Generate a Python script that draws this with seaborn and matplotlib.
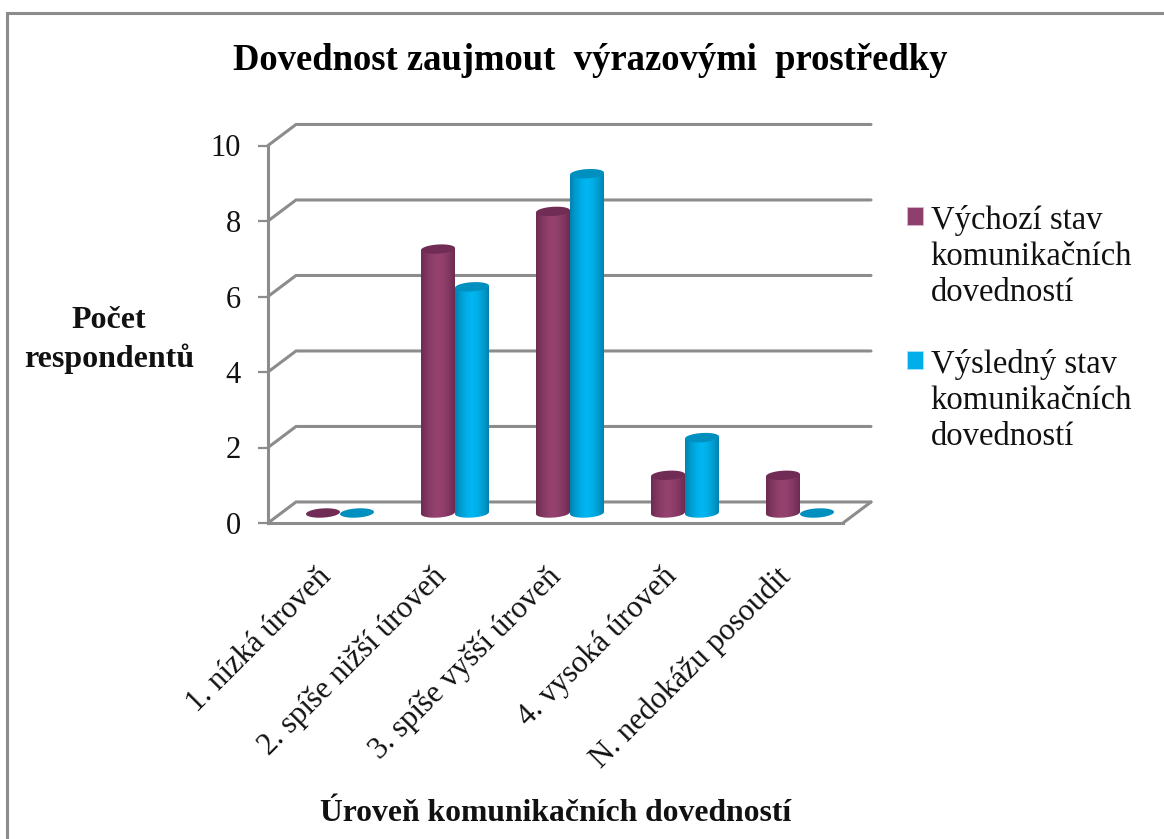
import numpy as np
import pandas as pd
import seaborn as sns
import matplotlib
matplotlib.use("Agg")
import matplotlib.pyplot as plt
from matplotlib.path import Path
from matplotlib.patches import PathPatch, Polygon, Rectangle

categories = ["1. nízká úroveň", "2. spíše nižší úroveň", "3. spíše vyšší úroveň",
              "4. vysoká úroveň", "N. nedokážu posoudit"]
series_names = ["Výchozí stav\nkomunikačních\ndovedností",
                "Výsledný stav\nkomunikačních\ndovedností"]
start_values = [0, 7, 8, 1, 1]
final_values = [0, 6, 9, 2, 0]
y_ticks = [0, 2, 4, 6, 8, 10]
title_text = "Dovednost zaujmout  výrazovými  prostředky"
y_title = "Počet\nrespondentů"
x_title = "Úroveň komunikačních dovedností"

W, H = 1164, 839
SERIF = "Liberation Serif"
GREY = "#8c8c8c"
body_colors = [("#6c2b52", "#96426f"), ("#0083b0", "#00b6f2")]
flat_colors = ["#8f3f6b", "#00aee8"]
top_colors = ["#702c55", "#0090bf"]

sns.set_theme(style="white")
plt.rcParams["font.family"] = [SERIF, "DejaVu Serif"]

df = pd.DataFrame({
    "cat": categories * 2,
    "series": [series_names[0]] * 5 + [series_names[1]] * 5,
    "value": start_values + final_values,
})

fig = plt.figure(figsize=(W / 100, H / 100), dpi=100, facecolor="white")


def px_axes(left, right, bottom, top):
    return fig.add_axes([left / W, 1 - bottom / H, (right - left) / W, (bottom - top) / H])


# outer frame: only the top and left edges fall inside the picture
fig.add_artist(Rectangle((7 / W, -0.05), 1.05, 1.05 - 12.8 / H,
                         transform=fig.transFigure, fill=False, edgecolor=GREY, linewidth=2.2))

# front plane: axis lines, ticks, labels
front = px_axes(268, 843, 523, 145.5)
front.set_xlim(-0.5, 4.5)
front.set_ylim(0, 10)
front.patch.set_alpha(0)
for s in ("top", "right"):
    front.spines[s].set_visible(False)
for s in ("left", "bottom"):
    front.spines[s].set_color(GREY)
    front.spines[s].set_linewidth(2.2)
front.set_yticks(y_ticks)
front.set_yticklabels([str(t) for t in y_ticks], fontsize=22, color="#111111")
front.set_xticks(np.arange(5) - 9 / 115)
front.set_xticklabels(categories, fontsize=22.2, rotation=45, ha="right",
                      rotation_mode="anchor", color="#111111")
front.tick_params(axis="y", length=7.5, width=1.6, color=GREY, pad=12, left=True)
front.tick_params(axis="x", length=0, pad=28, bottom=False)

# depth of the back wall, in data units
dx = 28 / (575 / 5)
dy = 21 / 37.7
for t in y_ticks:
    xs = [-0.5, -0.5 + dx, 4.5 + dx]
    ys = [t, t + dy, t + dy]
    front.plot(xs, ys, color=GREY, lw=2.2, clip_on=False, solid_joinstyle="miter", zorder=1)
front.plot([4.5, 4.5 + dx], [0, dy], color=GREY, lw=2.2, clip_on=False, zorder=1)

front.set_ylabel(y_title, rotation=0, fontsize=23, fontweight="bold", linespacing=1.4, color="#111111")
front.yaxis.set_label_coords((109 - 268) / 575, (523 - 340) / 377.5, transform=front.transAxes)
front.yaxis.label.set_va("center")
front.yaxis.label.set_ha("center")
front.set_xlabel(x_title, fontsize=22.8, fontweight="bold", color="#111111")
front.xaxis.set_label_coords((556 - 268) / 575, (523 - 814) / 377.5)
front.xaxis.label.set_va("center")

# bars
ax = px_axes(282.5, 857.5, 513, 136)
sns.barplot(data=df, x="cat", y="value", hue="series", palette=flat_colors, width=68 / 115,
            gap=0, saturation=1, ax=ax, legend=True, dodge=True, errorbar=None)
ax.set_xlim(-0.5, 4.5)
ax.set_ylim(0, 10)
ax.axis("off")
ax.patch.set_alpha(0)

eh = 4.6 / 37.7
skew = 0.06 * (115 / 37.7)
t_ = np.linspace(0, 2 * np.pi, 60)
for s, container in enumerate(ax.containers):
    grad = np.abs(np.linspace(-1, 1, 64)) ** 1.6
    dark = np.array(matplotlib.colors.to_rgb(body_colors[s][0]))
    light = np.array(matplotlib.colors.to_rgb(body_colors[s][1]))
    img = (dark[None, :] * grad[:, None] + light[None, :] * (1 - grad[:, None]))[None, :, :]
    for bar in container:
        x0, w, v = bar.get_x(), bar.get_width(), bar.get_height()
        xc = x0 + w / 2
        ex = xc + w / 2 * np.cos(t_)
        ey = eh * np.sin(t_) + skew * (ex - xc)
        if v > 0:
            tt = np.linspace(np.pi, 2 * np.pi, 30)
            bx = xc + w / 2 * np.cos(tt)
            by = eh * np.sin(tt) + skew * (bx - xc)
            verts = np.vstack([np.c_[bx, by], [[x0 + w, v + skew * w / 2]],
                               [[x0, v - skew * w / 2]], [[bx[0], by[0]]]])
            clip = PathPatch(Path(verts), transform=ax.transData, fc="none", ec="none", clip_on=False)
            ax.add_patch(clip)
            im = ax.imshow(img, extent=[x0, x0 + w, -2 * eh, v + 2 * eh], aspect="auto", zorder=3 + s)
            im.set_clip_box(fig.bbox)
            im.set_clip_path(clip)
            bar.set_alpha(0)
        ax.add_patch(Polygon(np.c_[ex, ey + v], closed=True, fc=top_colors[s], ec="none",
                             zorder=4 + s, clip_on=False))
ax.set_xlim(-0.5, 4.5)
ax.set_ylim(0, 10)

old = ax.get_legend()
if old is not None:
    old.remove()
proxies = [Rectangle((0, 0), 1, 1, fc=c, ec="#d9b8cc" if i == 0 else "#a8e4f8", lw=0.6)
           for i, c in enumerate(flat_colors)]
leg = fig.legend(proxies, series_names, loc="upper left", bbox_to_anchor=(907 / W, 1 - 205 / H),
                 frameon=False, fontsize=23.5, handlelength=0.49, handleheight=0.49, handletextpad=0.24,
                 labelspacing=1.27, labelcolor="#111111", borderpad=0, borderaxespad=0)
for t in leg.get_texts():
    t.set_linespacing(1.23)
for h in leg.legend_handles:
    h.set_y(h.get_y() + 29.2)

fig.text(590 / W, 1 - 61 / H, title_text, fontsize=26.4, fontweight="bold", ha="center", va="center",
         color="#000000")

fig.savefig("out.png", dpi=100, facecolor="white")
